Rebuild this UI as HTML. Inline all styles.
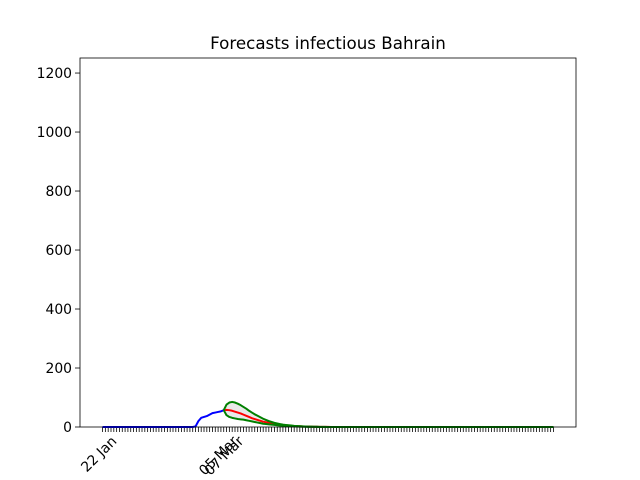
<!DOCTYPE html>
<html><head><meta charset="utf-8"><style>
body{margin:0;background:#fff;}
svg{display:block;font-family:"DejaVu Sans","Liberation Sans",sans-serif;}
</style></head><body>
<svg id="chart" width="640" height="480"></svg>
<script>
const startDay = 0, endDay = 160;
const tickLabelDays = [0, 43, 45];
const tickLabels = ["22 Jan", "05 Mar", "07 Mar"];
const yTicks = [0, 200, 400, 600, 800, 1000, 1200];
const observed = [0,0,0,0,0,0,0,0,0,0,0,0,0,0,0,0,0,0,0,0,0,0,0,0,0,0,0,0,0,0,0,0,0,2,20,31,34,37,42,47,49,51,53,57];
const forecastStart = 43;
const forecastMean = [57,58,57,55,52,49,46,42,38,34,30,27,24,21,18,16,14,12,10,9,8,7,6,5,4,3.5,3,2.5,2,1.8,1.5,1.2,1,0.8,0.6,0.5,0.4,0.3,0.2,0.2,0.1,0.1,0.1,0,0,0,0,0,0,0,0,0,0,0,0,0,0,0,0,0,0,0,0,0,0,0,0,0,0,0,0,0,0,0,0,0,0,0,0,0,0,0,0,0,0,0,0,0,0,0,0,0,0,0,0,0,0,0,0,0,0,0,0,0,0,0,0,0,0,0,0,0,0,0,0,0,0,0];
const forecastUpper = [57,76,83,85,83,79,74,68,62,55,49,43,38,33,28,24,20,17,14,12,10,8,7,6,5,4,3.4,2.8,2.2,1.8,1.4,1.1,0.9,0.7,0.5,0.4,0.3,0.2,0.2,0.1,0.1,0,0,0,0,0,0,0,0,0,0,0,0,0,0,0,0,0,0,0,0,0,0,0,0,0,0,0,0,0,0,0,0,0,0,0,0,0,0,0,0,0,0,0,0,0,0,0,0,0,0,0,0,0,0,0,0,0,0,0,0,0,0,0,0,0,0,0,0,0,0,0,0,0,0,0,0,0];
const forecastLower = [57,40,34,31,29,27,26,25,23,21,19,17,15,13,11,10,9,8,7,6,5,4,3.5,3,2.5,2,1.6,1.3,1,0.8,0.6,0.5,0.4,0.3,0.2,0.1,0.1,0,0,0,0,0,0,0,0,0,0,0,0,0,0,0,0,0,0,0,0,0,0,0,0,0,0,0,0,0,0,0,0,0,0,0,0,0,0,0,0,0,0,0,0,0,0,0,0,0,0,0,0,0,0,0,0,0,0,0,0,0,0,0,0,0,0,0,0,0,0,0,0,0,0,0,0,0,0,0,0,0];

const L=80,R=576,T=58,B=427;
const xmin=-8,xmax=168,ymin=0,ymax=1251;
const X=d=>L+(d-xmin)/(xmax-xmin)*(R-L);
const Y=v=>B-(v-ymin)/(ymax-ymin)*(B-T);
const svg=document.getElementById('chart');
const NS='http://www.w3.org/2000/svg';
function mk(tag,attrs,parent){const e=document.createElementNS(NS,tag);for(const k in attrs)e.setAttribute(k,attrs[k]);(parent||svg).appendChild(e);return e;}

let t=mk('text',{x:(L+R)/2,y:49,'text-anchor':'middle','font-size':'16.7',fill:'#000'});
t.textContent='Forecasts infectious Bahrain';



yTicks.forEach(v=>{
  const g=mk('g',{});
  
  
  mk('line',{x1:L-5,x2:L,y1:Y(v),y2:Y(v),stroke:'#000','stroke-width':0.8},g);
  const tx=mk('text',{x:L-8,y:Y(v)+5,'text-anchor':'end','font-size':'13.9',fill:'#000'},g);
  tx.textContent=v;
});
const xt=mk('g',{});


for(let d=startDay;d<=endDay;d++){
  mk('line',{x1:X(d),x2:X(d),y1:B,y2:B+5,stroke:'#000','stroke-width':0.8},xt);
}
tickLabelDays.forEach((d,i)=>{
  const tx=mk('text',{transform:`translate(${X(d)+15},${B+15}) rotate(-45)`,'text-anchor':'end','font-size':'13.9',fill:'#000'});
  tx.textContent=tickLabels[i];
  
  
});

let pts=[];
forecastUpper.forEach((v,i)=>pts.push(X(forecastStart+i)+','+Y(v)));
for(let i=forecastLower.length-1;i>=0;i--)pts.push(X(forecastStart+i)+','+Y(forecastLower[i]));
const band=mk('polygon',{points:pts.join(' '),fill:'#d3d3d3','fill-opacity':0.5,stroke:'none'});



function line(arr,off,color,name){
  const p=mk('polyline',{points:arr.map((v,i)=>X(off+i)+','+Y(v)).join(' '),fill:'none',stroke:color,'stroke-width':2,'stroke-linejoin':'round'});
  
  
}
line(observed,startDay,'#0000ff','observed-line');
line(forecastMean,forecastStart,'#ff0000','forecast-mean-line');
line(forecastUpper,forecastStart,'#008000','forecast-upper-line');
line(forecastLower,forecastStart,'#008000','forecast-lower-line');

const frame=mk('rect',{x:L,y:T,width:R-L,height:B-T,fill:'none',stroke:'#000','stroke-width':0.8});


</script>
</body></html>
